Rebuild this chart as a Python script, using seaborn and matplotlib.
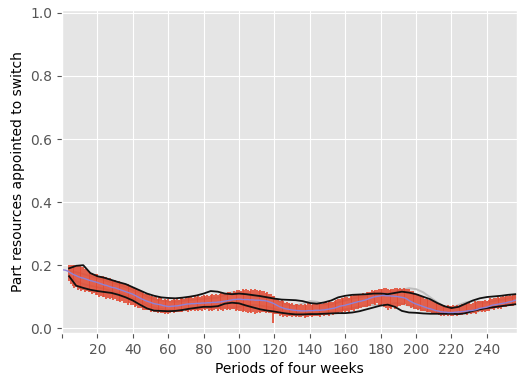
import numpy as np
import pandas as pd
import matplotlib
matplotlib.use("Agg")
import matplotlib.pyplot as plt
import seaborn as sns

# Share of resources appointed to switch, per period of four weeks (values in thousandths)
mean_share = [
    185, 184, 182, 179, 175, 172, 169, 167, 164, 162, 160, 159, 157, 155, 153, 151,
    150, 148, 147, 145, 143, 141, 139, 137, 136, 134, 132, 130, 129, 128, 126, 124,
    122, 120, 118, 116, 114, 112, 110, 108, 105, 102, 99, 96, 93, 91, 88, 86,
    84, 82, 80, 78, 77, 76, 75, 74, 72, 71, 70, 69, 69, 70, 70, 71,
    71, 72, 73, 74, 75, 76, 77, 77, 78, 78, 78, 79, 79, 79, 80, 80,
    80, 81, 81, 81, 82, 82, 82, 83, 83, 84, 85, 86, 87, 88, 89, 90,
    91, 91, 92, 92, 92, 91, 91, 91, 91, 90, 90, 90, 89, 89, 89, 89,
    88, 88, 87, 86, 84, 82, 80, 77, 74, 71, 68, 66, 64, 62, 61, 60,
    59, 58, 57, 57, 56, 56, 55, 55, 55, 55, 56, 56, 56, 56, 57, 57,
    57, 57, 58, 58, 59, 60, 61, 62, 63, 64, 66, 68, 70, 71, 72, 73,
    75, 76, 78, 79, 81, 82, 84, 85, 86, 88, 89, 91, 93, 95, 97, 99,
    100, 101, 102, 103, 104, 104, 103, 103, 103, 102, 102, 101, 101, 100, 99, 98,
    97, 95, 92, 88, 85, 82, 79, 77, 75, 73, 71, 69, 67, 65, 63, 62,
    60, 58, 56, 55, 54, 52, 52, 51, 51, 50, 50, 50, 50, 51, 51, 52,
    52, 53, 53, 54, 55, 56, 56, 57, 58, 59, 61, 63, 64, 65, 66, 67,
    69, 71, 73, 74, 75, 76, 77, 78, 79, 80, 81, 83, 84, 85, 87, 89,
]

# Spread above / below the mean for every period (thousandths)
spread_up = [
    0, 0, 0, 20, 26, 29, 33, 31, 35, 36, 33, 34, 30, 29, 27, 25,
    26, 22, 24, 28, 21, 25, 27, 23, 26, 22, 28, 24, 21, 26, 23, 27,
    24, 21, 26, 23, 27, 22, 25, 20, 24, 26, 21, 23, 25, 22, 20, 24,
    21, 19, 23, 20, 22, 18, 24, 21, 19, 22, 20, 23, 18, 21, 24, 20,
    22, 19, 23, 21, 18, 24, 20, 22, 25, 19, 23, 21, 24, 20, 22, 26,
    23, 25, 21, 24, 27, 22, 26, 23, 25, 28, 24, 26, 22, 27, 25, 23,
    27, 24, 28, 30, 26, 33, 29, 35, 31, 27, 34, 30, 36, 32, 28, 33,
    29, 31, 26, 30, 24, 27, 21, 24, 20, 22, 19, 23, 21, 18, 22, 20,
    19, 22, 18, 21, 20, 17, 22, 19, 21, 18, 23, 20, 17, 21, 19, 22,
    20, 23, 19, 22, 24, 21, 25, 22, 20, 24, 23, 26, 22, 25, 23, 27,
    24, 21, 25, 23, 26, 22, 24, 20, 23, 25, 21, 24, 22, 20, 23, 19,
    22, 20, 24, 21, 19, 23, 25, 22, 18, 21, 24, 26, 28, 25, 29, 27,
    31, 28, 33, 35, 32, 36, 33, 30, 34, 31, 28, 30, 27, 29, 26, 28,
    25, 27, 24, 26, 23, 25, 22, 24, 21, 23, 20, 22, 24, 21, 23, 20,
    22, 24, 21, 25, 23, 26, 22, 24, 27, 23, 25, 22, 24, 21, 23, 20,
    22, 24, 21, 23, 20, 22, 19, 21, 23, 20, 22, 19, 21, 18, 20, 19,
]
spread_down = [
    0, 0, 0, 28, 34, 38, 40, 36, 42, 39, 43, 37, 41, 36, 39, 37,
    40, 36, 43, 38, 44, 39, 41, 37, 42, 38, 40, 35, 39, 36, 41, 37,
    38, 34, 39, 36, 40, 33, 37, 35, 38, 32, 36, 33, 30, 34, 31, 29,
    27, 30, 25, 28, 24, 27, 22, 26, 23, 25, 21, 24, 22, 20, 23, 21,
    19, 22, 20, 23, 18, 21, 24, 19, 22, 20, 23, 21, 25, 22, 24, 20,
    23, 21, 25, 22, 26, 24, 21, 27, 23, 25, 29, 26, 30, 27, 32, 28,
    31, 35, 33, 38, 36, 41, 37, 40, 43, 39, 42, 38, 44, 40, 37, 41,
    38, 36, 40, 34, 37, 33, 63, 31, 28, 26, 29, 24, 27, 22, 25, 21,
    20, 23, 19, 22, 18, 21, 20, 17, 22, 19, 21, 18, 20, 16, 19, 17,
    18, 21, 17, 20, 16, 19, 22, 18, 21, 17, 20, 23, 19, 22, 18, 21,
    20, 23, 19, 22, 25, 21, 24, 20, 23, 19, 22, 25, 21, 24, 20, 23,
    26, 22, 28, 31, 27, 35, 40, 44, 38, 42, 36, 39, 33, 30, 27, 24,
    22, 19, 21, 17, 20, 16, 18, 15, 17, 13, 16, 14, 12, 15, 13, 11,
    13, 10, 12, 9, 11, 13, 10, 12, 9, 11, 8, 10, 12, 9, 11, 10,
    9, 11, 8, 10, 12, 9, 11, 8, 10, 13, 11, 9, 12, 10, 14, 11,
    13, 10, 12, 15, 11, 14, 12, 16, 13, 11, 15, 12, 14, 13, 16, 12,
]

# Envelopes sampled every fourth period (thousandths)
black_upper = [
    190, 198, 200, 175, 165, 160, 153, 146, 140, 130, 120, 110, 103, 98, 96, 95,
    97, 100, 104, 110, 118, 116, 110, 108, 110, 108, 105, 102, 98, 94, 91, 90,
    89, 86, 80, 78, 82, 88, 98, 103, 106, 107, 108, 110, 110, 108, 112, 116,
    113, 108, 100, 92, 80, 70, 64, 68, 78, 88, 95, 99, 101, 103, 106, 108,
]
black_lower = [
    165, 135, 128, 122, 118, 115, 112, 106, 98, 88, 75, 63, 56, 55, 54, 55,
    58, 62, 65, 68, 68, 70, 78, 81, 79, 72, 66, 60, 56, 53, 49, 46,
    44, 44, 45, 45, 46, 47, 48, 48, 50, 54, 60, 66, 72, 75, 68, 55,
    50, 49, 47, 46, 46, 46, 46, 45, 48, 55, 60, 64, 67, 70, 73, 76,
]
gray_upper = [
    182, 178, 172, 165, 158, 152, 145, 138, 130, 120, 112, 100, 92, 88, 85, 84,
    86, 89, 91, 93, 95, 97, 105, 114, 116, 108, 102, 100, 97, 92, 82, 74,
    72, 78, 86, 84, 76, 75, 82, 88, 94, 98, 102, 108, 112, 112, 114, 122,
    127, 124, 114, 98, 82, 68, 64, 74, 82, 86, 80, 82, 86, 90, 94, 98,
]
gray_lower = [
    170, 150, 140, 135, 130, 125, 118, 112, 104, 95, 85, 74, 66, 62, 58, 57,
    57, 60, 64, 68, 70, 68, 66, 65, 68, 74, 74, 72, 68, 62, 55, 50,
    48, 47, 48, 48, 50, 52, 55, 60, 64, 68, 72, 74, 73, 74, 80, 78,
    72, 64, 58, 54, 48, 46, 44, 45, 47, 50, 55, 60, 65, 70, 74, 78,
]

x_ticks = [0, 20, 40, 60, 80, 100, 120, 140, 160, 180, 200, 220, 240]
x_tick_labels = ["", "20", "40", "60", "80", "100", "120", "140", "160",
                 "180", "200", "220", "240"]

periods = np.arange(1, len(mean_share) + 1)
env_periods = np.arange(4, 4 * len(black_upper) + 1, 4)

mean_v = np.array(mean_share) / 1000
low_v = mean_v - np.array(spread_down) / 1000
high_v = mean_v + np.array(spread_up) / 1000

env = pd.DataFrame({
    "period": env_periods,
    "black_upper": np.array(black_upper) / 1000,
    "black_lower": np.array(black_lower) / 1000,
    "gray_upper": np.array(gray_upper) / 1000,
    "gray_lower": np.array(gray_lower) / 1000,
})
main = pd.DataFrame({"period": periods, "mean": mean_v})

plt.style.use("ggplot")
fig = plt.figure(figsize=(5.17, 3.76), dpi=100)
ax = fig.add_axes([62 / 517, 43 / 376, 455 / 517, 323 / 376])

for col in ["gray_upper", "gray_lower"]:
    sns.lineplot(data=env, x="period", y=col, ax=ax, color="#bdbdbd",
                 lw=1.4, estimator=None, zorder=2)

ax.vlines(periods, low_v, high_v, color="#E24A33", lw=1.3, alpha=0.95, zorder=3)

for col in ["black_upper", "black_lower"]:
    sns.lineplot(data=env, x="period", y=col, ax=ax, color="#111111",
                 lw=1.3, estimator=None, zorder=4)

sns.lineplot(data=main, x="period", y="mean", ax=ax, color="#8c82d8",
             lw=1.0, estimator=None, zorder=5)

ax.set_xlim(0, 257)
ax.set_ylim(-0.015, 1.009)
ax.set_xticks(x_ticks)
ax.set_xticklabels(x_tick_labels)
ax.set_yticks([0.0, 0.2, 0.4, 0.6, 0.8, 1.0])
ax.set_xlabel("Periods of four weeks", color="black", fontsize=10)
ax.set_ylabel("Part resources appointed to switch", color="black", fontsize=10)
ax.tick_params(labelsize=10)

fig.savefig("out.png", dpi=100)
